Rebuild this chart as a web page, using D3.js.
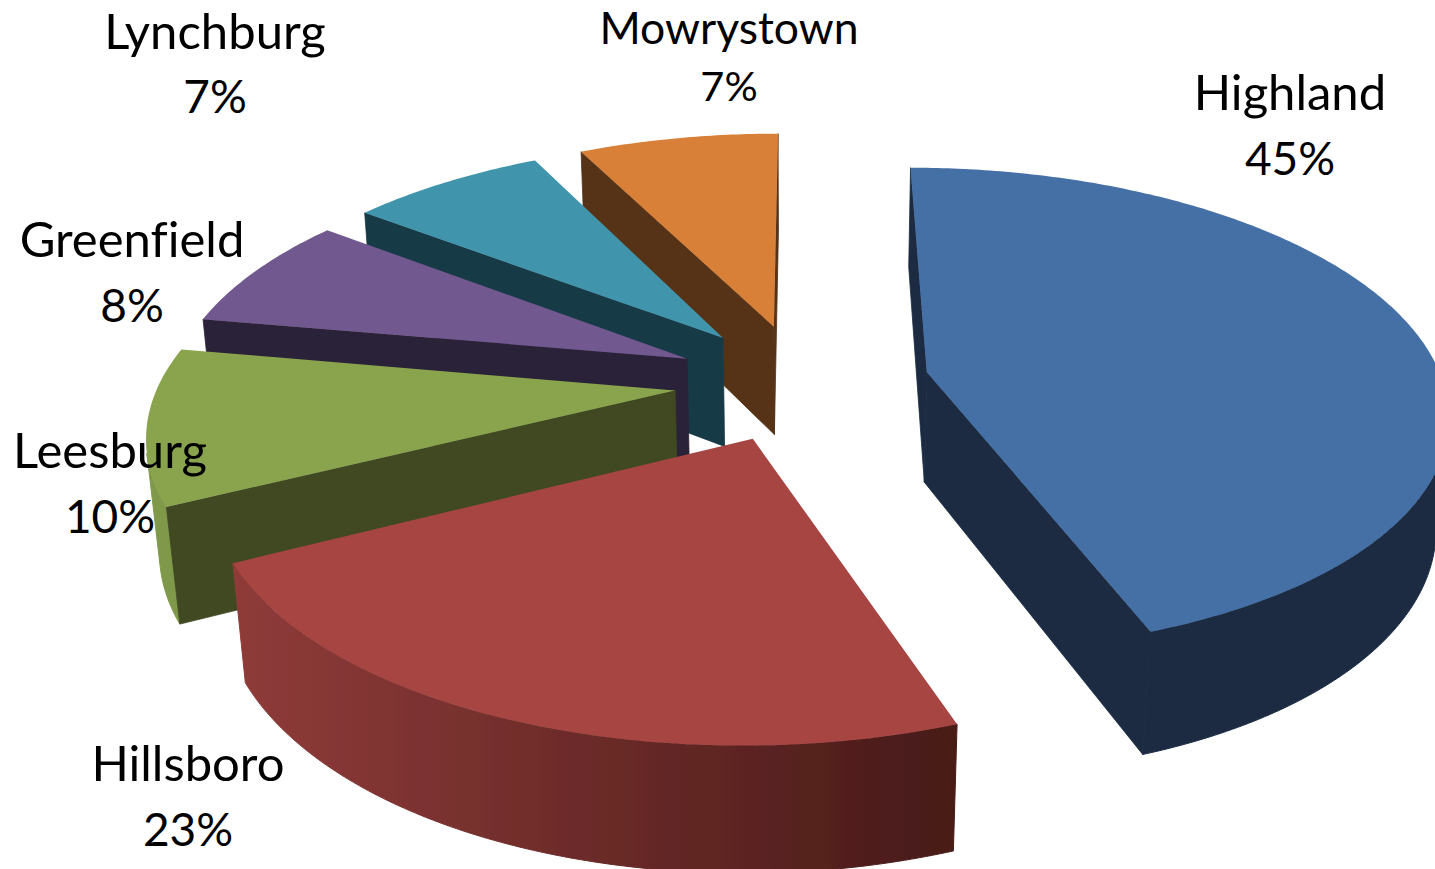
<!DOCTYPE html>
<html><head><meta charset="utf-8">
<style>html,body{margin:0;padding:0;background:#fff;overflow:hidden}svg{display:block}</style>
<script src="https://cdn.jsdelivr.net/npm/d3@7"></script></head><body>
<svg id="c" width="1435" height="869"></svg>
<script>
const categories = ["Highland","Hillsboro","Leesburg","Greenfield","Lynchburg","Mowrystown"];
const shares = [44.5,23.1,10.2,7.55,7.25,7.4];
const percentLabels = ["45%","23%","10%","8%","7%","7%"];
const topColors = ["#4470a5","#a64442","#89a44e","#71588f","#4095ad","#d88039"];
const wallColors = ["#1b2c43","#3b1715","#3f4823","#2c2137","#193a46","#573216"];
const rimLeft = ["#1b2c43","#8f3b39","#7f9849","#2c2137","#193a46","#573216"];
const rimRight = ["#1b2c43","#471a18","#7f9849","#2c2137","#193a46","#573216"];
const labelAnchors = [[1290,110,175],[188,781,846],[110,468,533],[132,257,322],[215,49,113],[729,44,101]];
const nameSizes = [49,49,49,49,49,44.5];
const percentSizes = [46,46,46,46,46,41.5];
const camera = {x0:802,y0:382,A:516,h:0.156,vx:806,vy:-1150,k:0.02,lift:113,explode:0.247};

const svg = d3.select("#c");
const defs = svg.append("defs");
defs.append("filter").attr("id","soft").attr("x","-5%").attr("y","-5%").attr("width","110%").attr("height","110%")
  .append("feGaussianBlur").attr("stdDeviation",0.6);
const project = (X,Y,Z)=>{
  const w = 1+camera.h*Y+camera.k*Z;
  return [(camera.A*X+camera.x0+camera.vx*camera.h*Y+camera.x0*camera.k*Z)/w,
          (camera.y0+camera.vy*camera.h*Y+(camera.y0+camera.lift/camera.k)*camera.k*Z)/w];
};
const arcs = d3.pie().sort(null).value(d=>d)(shares);
const line = d3.line();
const slices = arcs.map((a,i)=>{
  const mid=(a.startAngle+a.endAngle)/2;
  const ox=camera.explode*Math.sin(mid), oy=camera.explode*Math.cos(mid);
  const rim=(t,Z)=>project(ox+Math.sin(t),oy+Math.cos(t),Z);
  return {i,a,apex:Z=>project(ox,oy,Z),rim};
});
const order=[5,4,3,2,1,0];
const g=svg.append("g").attr("filter","url(#soft)");
order.forEach(i=>{
  const s=slices[i],{startAngle:t0,endAngle:t1}=s.a;
  const startQuad=[s.apex(0),s.rim(t0,0),s.rim(t0,1),s.apex(1)];
  const endQuad=[s.rim(t1,0),s.apex(0),s.apex(1),s.rim(t1,1)];
  const n=Math.ceil((t1-t0)/0.012);
  const ts=d3.range(n+1).map(j=>t0+(t1-t0)*j/n);
  const vis=ts.filter((t,j)=>{
    const u=ts[Math.max(j-1,0)],v=ts[Math.min(j+1,n)];
    return d3.polygonArea([s.rim(u,0),s.rim(v,0),s.rim(v,1),s.rim(u,1)])>0;
  });
  if(vis.length>1){
    const xr=d3.extent(vis,t=>s.rim(t,0)[0]);
    defs.append("linearGradient").attr("id","rim"+i).attr("gradientUnits","userSpaceOnUse")
      .attr("x1",xr[0]).attr("x2",xr[1]).attr("y1",0).attr("y2",0)
      .selectAll("stop").data([rimLeft[i],rimRight[i]]).join("stop")
      .attr("offset",(d,j)=>j).attr("stop-color",d=>d);
    const poly=[...vis.map(t=>s.rim(t,0)),...vis.slice().reverse().map(t=>s.rim(t,1))];
    g.append("path").attr("d",line(poly)+"Z").attr("fill",`url(#rim${i})`).attr("stroke",`url(#rim${i})`).attr("stroke-width",1);
  }
  [startQuad,endQuad].forEach(q=>{
    if(d3.polygonArea(q)>0) g.append("path").attr("d",line(q)+"Z").attr("fill",wallColors[i]).attr("stroke",wallColors[i]).attr("stroke-width",0.8);
  });
  const face=[s.apex(0),...ts.map(t=>s.rim(t,0))];
  g.append("path").attr("d",line(face)+"Z").attr("fill",topColors[i]);
});
const labels=svg.append("g").attr("font-family","Lato, 'Open Sans', sans-serif").attr("fill","#000").attr("text-anchor","middle").style("font-variant-ligatures","none");
categories.forEach((c,i)=>{
  const [x,y1,y2]=labelAnchors[i];
  labels.append("text").attr("x",x).attr("y",y1).attr("font-size",nameSizes[i]).text(c);
  labels.append("text").attr("x",x).attr("y",y2).attr("font-size",percentSizes[i]).text(percentLabels[i]);
});
</script></body></html>
